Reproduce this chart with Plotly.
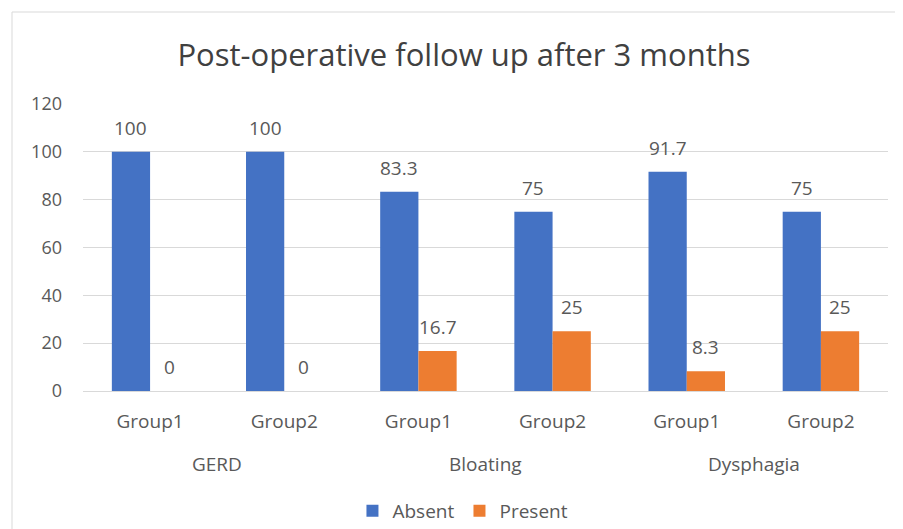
import plotly.graph_objects as go

symptoms = ["GERD", "Bloating", "Dysphagia"]
groups = ["Group1", "Group2", "Group1", "Group2", "Group1", "Group2"]
absent = [100, 100, 83.3, 75, 91.7, 75]
present = [0, 0, 16.7, 25, 8.3, 25]
y_ticks = [0, 20, 40, 60, 80, 100, 120]

# unique category keys (symptom|group) so repeated group names stay distinct
cat_keys = [f"{symptoms[i // 2]}|{g}" for i, g in enumerate(groups)]

FONT = "Open Sans"
GRAY = "#595959"
BAR_W = 0.285  # width of one bar in category units

fig = go.Figure()
series = [("Absent", absent, "#4472C4", -BAR_W), ("Present", present, "#ED7D31", 0.0)]
for name, vals, color, off in series:
    fig.add_trace(go.Bar(name=name, x=cat_keys, y=vals, marker_color=color,
                         width=BAR_W, offset=off, marker_line_width=0))
    for i, v in enumerate(vals):
        fig.add_annotation(x=i + off + BAR_W / 2, xref="x", y=v, yref="y",
                           yanchor="bottom", yshift=9, text=f"{v:g}", showarrow=False,
                           font=dict(size=19, color=GRAY, family=FONT))

fig.update_layout(
    width=895, height=521,
    margin=dict(l=75, r=15, t=96, b=138, autoexpand=False),
    paper_bgcolor="white", plot_bgcolor="white",
    font=dict(family=FONT, color=GRAY, size=17),
    title=dict(text="Post-operative follow up after 3 months", x=0.5095, xanchor="center",
               y=0.91, yanchor="middle", font=dict(size=31, color="#404040", family=FONT)),
    barmode="overlay",
    showlegend=True,
    legend=dict(orientation="h", x=0.472, xanchor="center", y=-0.418, yanchor="middle",
                font=dict(size=19, color=GRAY), itemwidth=30),
    yaxis=dict(range=[0, 120], tickvals=y_ticks, showgrid=True, gridcolor="#D9D9D9",
               gridwidth=1, zeroline=False, showline=False, ticks="", automargin=False,
               tickfont=dict(size=18, color=GRAY), ticklabelstandoff=20),
    xaxis=dict(type="category", tickvals=cat_keys, ticktext=groups, showline=True,
               linecolor="#D9D9D9", ticks="", tickfont=dict(size=19, color=GRAY),
               ticklabelstandoff=13, automargin=False, range=[-0.5, 5.5]),
)

for i, s in enumerate(symptoms):
    fig.add_annotation(x=2 * i + 0.5, xref="x", y=-0.254, yref="paper", yanchor="middle",
                       text=s, showarrow=False, font=dict(size=19, color=GRAY, family=FONT))

fig.add_shape(type="rect", xref="paper", yref="paper",
              x0=(4 - 75) / 805, x1=(895 - 75) / 805 + 0.02,
              y0=-138 / 287 - 0.05, y1=(383 - 4) / 287,
              line=dict(color="#D9D9D9", width=1), layer="below")

fig.write_html("out.html")
